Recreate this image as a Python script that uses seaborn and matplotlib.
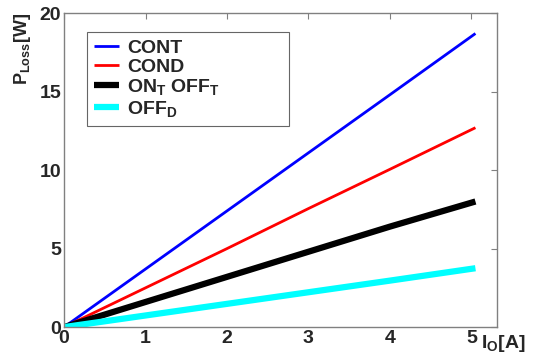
import numpy as np
import pandas as pd
import seaborn as sns
from matplotlib import pyplot as plt

io = [0, 1, 2, 3, 4, 5.05]
cont = [0, 3.7, 7.4, 11.1, 14.8, 18.7]
cond = [0, 2.5, 5.0, 7.55, 10.05, 12.7]
on_off = [0, 1.6, 3.2, 4.8, 6.4, 8.0]
off_d = [0, 0.74, 1.48, 2.22, 2.96, 3.75]
labels = ['CONT', 'COND', r'ON$_\mathbf{T}$ OFF$_\mathbf{T}$', r'OFF$_\mathbf{D}$']

sns.set_style('white')
plt.rcParams['font.family'] = ['Liberation Sans', 'DejaVu Sans']
plt.rcParams['font.weight'] = 'bold'
plt.rcParams['mathtext.fontset'] = 'custom'
plt.rcParams['mathtext.rm'] = 'Liberation Sans:bold'
plt.rcParams['mathtext.bf'] = 'Liberation Sans:bold'
plt.rcParams['mathtext.it'] = 'Liberation Sans:bold'

fig, ax = plt.subplots(figsize=(5.34, 3.54), dpi=100)
fig.subplots_adjust(left=0.12, right=0.93, top=0.963, bottom=0.076)

series = [cont, cond, on_off, off_d]
colors = ['#0000ff', '#ff0000', 'black', '#00ffff']
widths = [2, 2, 4.5, 4.5]
for vals, lab, c, w in zip(series, labels, colors, widths):
    df = pd.DataFrame({'io': io, 'p': vals})
    sns.lineplot(data=df, x='io', y='p', color=c, lw=w, label=lab, ax=ax,
                 solid_capstyle='butt')

ax.set_xlim(0, 5.31)
ax.set_ylim(0, 20)
ax.set_xticks([0, 1, 2, 3, 4, 5])
ax.set_yticks([0, 5, 10, 15, 20])
ax.tick_params(direction='in', length=4, color='#808080', labelsize=14,
               top=True, right=True, pad=2)
for lab in ax.get_xticklabels() + ax.get_yticklabels():
    lab.set_fontweight('bold')
for s in ax.spines.values():
    s.set_color('#808080')
    s.set_linewidth(1)
ax.set_xlabel('')
ax.set_ylabel('')
ax.text(-0.095, 1.0, r'P$_\mathrm{Loss}$[W]', transform=ax.transAxes, rotation=90,
        ha='center', va='top', fontsize=13, fontweight='bold')
ax.text(1.015, -0.02, r'I$_\mathrm{O}$[A]', transform=ax.transAxes,
        ha='center', va='top', fontsize=14, fontweight='bold')

leg = ax.legend(loc='upper left', bbox_to_anchor=(0.053, 0.9395, 0.467, 0.0),
                mode='expand', fontsize=14, frameon=True, fancybox=False,
                handlelength=1.3, handletextpad=0.4, labelspacing=0.08,
                borderpad=0.35, borderaxespad=0)
leg.get_frame().set_edgecolor('#404040')
leg.get_frame().set_linewidth(0.8)
for t in leg.get_texts():
    t.set_fontweight('bold')

fig.savefig('out.png', dpi=100)
